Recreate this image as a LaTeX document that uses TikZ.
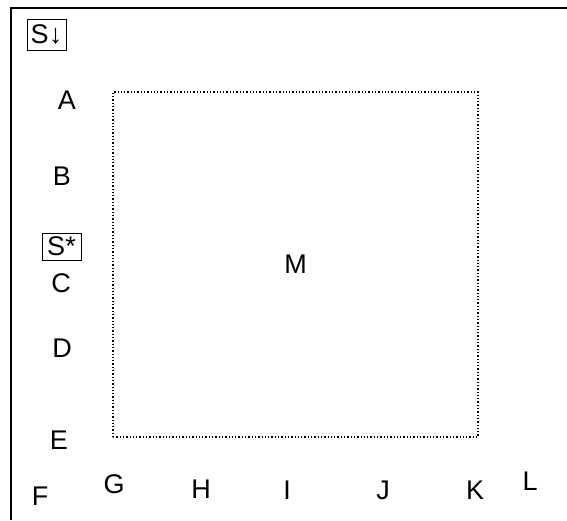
\documentclass[tikz,border=0pt]{standalone}
\usepackage{fontspec}
\setmainfont{Liberation Sans}
\usetikzlibrary{positioning}
\tikzset{
  lbl/.style    = {font=\fontsize{27}{32}\selectfont, inner sep=0pt},
  tagbox/.style = {lbl, draw, line width=0.6pt, inner xsep=1pt,
                   inner ysep=1.5pt, minimum width=39pt},
  frame/.style  = {line width=2pt},
  region/.style = {draw, dotted, line width=1.3pt, lbl,
                   minimum width=365pt, minimum height=345pt},
}

\begin{document}
\begin{tikzpicture}[x=1pt,y=-1pt]
  \useasboundingbox (0,0) rectangle (567,520);

  % outer frame, top and left side only
  \coordinate (topend) at (567,8);
  \coordinate (corner) at (11,8);
  \coordinate (leftend) at (11,520);
  \draw[frame] (topend) -- (corner) -- (leftend);

  \node[region] (M) at (295.5,264.5) {M};

  \node[tagbox, minimum height=31pt] (sdown) at (46.5,34.5) {S↓};
  \node[tagbox, minimum height=27pt] (sstar) at (61.5,246.5) {S*};

  % left column
  \node[lbl] (A) at (67,100) {A};
  \node[lbl] (B) at (62,176) {B};
  \node[lbl] (C) at (61,283) {C};
  \node[lbl] (D) at (62,348) {D};
  \node[lbl] (E) at (59,440) {E};

  % bottom row
  \node[lbl] (F) at (40,496) {F};
  \node[lbl] (G) at (114,484) {G};
  \node[lbl] (H) at (201,489) {H};
  \node[lbl] (I) at (287,490) {I};
  \node[lbl] (J) at (383,490) {J};
  \node[lbl] (K) at (475,490) {K};
  \node[lbl] (L) at (530,481) {L};

\end{tikzpicture}
\end{document}
